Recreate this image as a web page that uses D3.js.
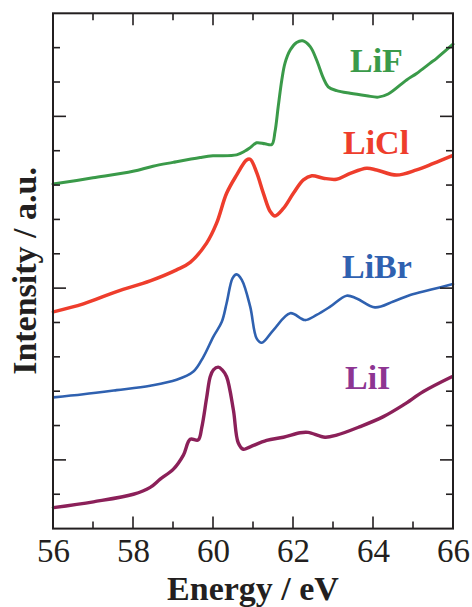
<!DOCTYPE html>
<html>
<head>
<meta charset="utf-8">
<script src="https://cdn.jsdelivr.net/npm/d3@7"></script>
<style>
  html, body { margin: 0; padding: 0; background: #fff; }
  svg { display: block; }
  text { font-family: "Liberation Serif", "Times New Roman", serif; }
</style>
</head>
<body>
<svg id="chart" width="472" height="607"></svg>
<script>
// Li 2p / halide spectra (arbitrary units, offset for clarity)
const lifEnergy = [56.00, 57.00, 58.00, 58.50, 59.00, 59.68, 60.00, 60.59, 60.80, 60.93, 61.09, 61.30, 61.47, 61.55, 61.63, 61.72, 61.80, 61.93, 62.09, 62.24, 62.43, 62.59, 62.76, 62.88, 63.09, 63.43, 63.84, 64.13, 64.38, 64.84, 65.09, 65.43, 65.59, 66.00];
const lifIntensity = [8.03, 8.21, 8.40, 8.55, 8.66, 8.80, 8.85, 8.88, 8.99, 9.09, 9.23, 9.20, 9.18, 9.55, 10.28, 11.06, 11.55, 11.93, 12.15, 12.20, 12.03, 11.64, 11.11, 10.86, 10.75, 10.67, 10.60, 10.56, 10.65, 11.06, 11.25, 11.55, 11.69, 12.10];

const liclEnergy = [56.01, 56.76, 57.59, 58.43, 59.09, 59.43, 59.84, 60.09, 60.34, 60.59, 60.84, 60.93, 61.09, 61.26, 61.43, 61.55, 61.76, 62.01, 62.26, 62.47, 62.76, 63.09, 63.43, 63.84, 64.09, 64.59, 65.09, 65.51, 65.97];
const liclIntensity = [4.31, 4.54, 4.90, 5.21, 5.53, 5.75, 6.31, 6.89, 7.76, 8.29, 8.73, 8.75, 8.37, 7.76, 7.23, 7.10, 7.32, 7.76, 8.15, 8.27, 8.20, 8.17, 8.34, 8.49, 8.44, 8.29, 8.44, 8.63, 8.85];

const libEnergy = [56.01, 56.76, 57.59, 58.43, 59.09, 59.51, 59.76, 60.01, 60.22, 60.34, 60.49, 60.59, 60.72, 60.93, 61.09, 61.22, 61.51, 61.93, 62.30, 62.59, 62.93, 63.34, 63.59, 64.05, 64.51, 64.93, 65.43, 66.00];
const libIntensity = [1.82, 1.91, 2.03, 2.16, 2.33, 2.57, 3.00, 3.59, 4.02, 4.56, 5.29, 5.40, 5.24, 4.46, 3.54, 3.41, 3.78, 4.27, 4.07, 4.22, 4.46, 4.78, 4.70, 4.44, 4.61, 4.80, 4.95, 5.12];

const liiEnergy = [56.01, 57.01, 58.01, 58.43, 58.68, 59.01, 59.26, 59.43, 59.63, 59.72, 59.84, 59.93, 60.01, 60.13, 60.23, 60.34, 60.51, 60.63, 60.76, 60.93, 61.34, 61.76, 62.18, 62.38, 62.80, 63.09, 63.68, 64.26, 64.76, 65.26, 65.97];
const liiIntensity = [-1.39, -1.22, -1.00, -0.80, -0.56, -0.27, 0.14, 0.60, 0.58, 0.95, 1.80, 2.42, 2.62, 2.70, 2.62, 2.42, 1.45, 0.50, 0.31, 0.38, 0.57, 0.66, 0.79, 0.80, 0.66, 0.72, 0.97, 1.26, 1.60, 1.99, 2.42];

const seriesNames = ["LiF", "LiCl", "LiBr", "LiI"];
const seriesColors = ["#3a9a49", "#ee3d2c", "#2f61b0", "#8b2059"];
const labelColors = ["#3a9a49", "#ee3d2c", "#2f61b0", "#8d3592"];
const labelPos = [[350, 72], [343, 154], [342, 278], [345, 389]];
const lineWidths = [3, 3.5, 2.6, 3.4];

const xTickLabels = [56, 58, 60, 62, 64, 66];

const svg = d3.select("#chart");
const margin = {left: 53, top: 13.3, right: 19, bottom: 78.4};
const W = 472 - margin.left - margin.right;
const H = 607 - margin.top - margin.bottom;

const x = d3.scaleLinear().domain([56, 66]).range([0, W]);
const y = d3.scaleLinear().domain([-2, 13]).range([H, 0]);

const g = svg.append("g").attr("transform", `translate(${margin.left},${margin.top})`);

const energies = [lifEnergy, liclEnergy, libEnergy, liiEnergy];
const intensities = [lifIntensity, liclIntensity, libIntensity, liiIntensity];

const line = d3.line()
  .x(d => x(d[0]))
  .y(d => y(d[1]))
  .curve(d3.curveCatmullRom.alpha(0.5));

seriesNames.forEach((name, i) => {
  const pts = energies[i].map((e, k) => [e, intensities[i][k]]);
  g.append("path")
    .datum(pts)
    .attr("fill", "none")
    .attr("stroke", seriesColors[i])
    .attr("stroke-width", lineWidths[i])
    .attr("stroke-linejoin", "round")
    .attr("stroke-linecap", "round")
    .attr("d", line);
});

// Ticks on all four sides, pointing inward; longer ones at the major steps
const axisColor = "#231f20";
const xMinor = d3.range(56, 67, 1);
const yMinor = d3.range(-2, 14, 1);

const axisBottom = d3.axisBottom(x).tickValues(xMinor).tickSizeOuter(0)
  .tickSizeInner(0).tickFormat(d => xTickLabels.includes(d) ? d : "");
const gb = g.append("g").attr("transform", `translate(0,${H})`).call(axisBottom);
gb.select(".domain").remove();
gb.selectAll(".tick line").remove();
gb.selectAll(".tick text")
  .attr("y", 10).attr("dy", "0.71em")
  .style("font-size", "33px").attr("fill", axisColor);

function tickLen(v, isX) {
  if (isX) return (v % 2 === 0) ? 12 : 7;
  return (v % 5 === 0) ? 13 : 7;
}

const ticks = g.append("g").attr("stroke", axisColor).attr("stroke-width", 1.6);
xMinor.forEach(v => {
  if (v === 56 || v === 66) return;
  const L = tickLen(v, true);
  ticks.append("line").attr("x1", x(v)).attr("x2", x(v)).attr("y1", H).attr("y2", H - L);
  ticks.append("line").attr("x1", x(v)).attr("x2", x(v)).attr("y1", 0).attr("y2", L);
});
yMinor.forEach(v => {
  if (v === -2 || v === 13) return;
  const L = tickLen(v, false);
  ticks.append("line").attr("x1", 0).attr("x2", L).attr("y1", y(v)).attr("y2", y(v));
  ticks.append("line").attr("x1", W).attr("x2", W - L).attr("y1", y(v)).attr("y2", y(v));
});

g.append("rect")
  .attr("x", 0).attr("y", 0).attr("width", W).attr("height", H)
  .attr("fill", "none").attr("stroke", axisColor).attr("stroke-width", 2);

// Series labels
seriesNames.forEach((name, i) => {
  svg.append("text")
    .attr("x", labelPos[i][0]).attr("y", labelPos[i][1])
    .attr("fill", labelColors[i])
    .style("font-size", "34px").style("font-weight", "bold")
    .text(name);
});

// Axis titles
svg.append("text")
  .attr("x", margin.left + W / 2).attr("y", 600)
  .attr("text-anchor", "middle")
  .attr("fill", axisColor)
  .style("font-size", "34px").style("font-weight", "bold")
  .text("Energy / eV");

svg.append("text")
  .attr("transform", `translate(36,${margin.top + H / 2}) rotate(-90)`)
  .attr("text-anchor", "middle")
  .attr("fill", axisColor)
  .style("font-size", "34px").style("font-weight", "bold")
  .text("Intensity / a.u.");
</script>
</body>
</html>
